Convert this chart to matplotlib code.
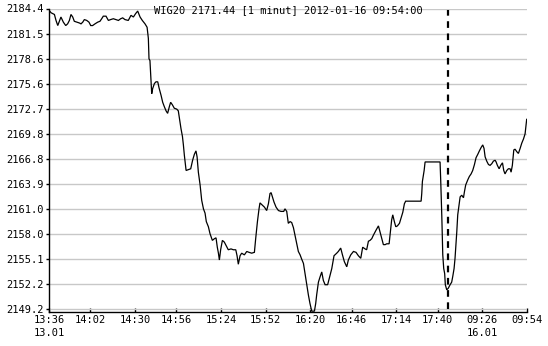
import matplotlib
matplotlib.use('Agg')
import matplotlib.pyplot as plt
import numpy as np

# minutes on the session axis (0 = 13:36 on 13.01, overnight gap removed)
t = [0, 1.3, 3.4, 4.4, 5.5, 6.5, 7.5, 9.0, 10.5, 11.7, 12.8, 13.8, 14.9, 15.9, 17.4, 19.1, 20.1, 21.2,
     22.2, 23.7, 25.1, 26.2, 27.4, 28.9, 30.6, 32.0, 33.1, 34.1, 35.8, 37.3, 38.7, 40.4, 41.9, 43.6,
     45.0, 46.3, 47.7,
     49.8, 51.5, 53.0, 54.4, 55.7, 57.2, 58.6, 60.3, 61.6, 62.4, 62.8, 63.4, 64.1, 64.5, 65.1, 66.2,
     67.2, 68.3, 69.1, 70.4, 71.4, 72.4, 73.5, 74.5, 75.6, 76.4, 77.5, 78.7, 80.2, 81.2, 81.9, 82.9,
     83.8, 84.4, 85.0, 86.1, 87.5, 89.0, 90.2, 91.3, 92.3, 93.0, 93.8, 94.9, 95.9, 97.0, 98.0, 98.8,
     100.1, 101.1, 102.6, 103.9, 104.9, 105.7, 106.4, 107.0, 107.8, 108.9, 110.1, 111.2, 112.6, 114.3,
     115.8, 117.3, 118.1, 118.9, 120.0, 121.0, 122.7, 124.2, 125.6, 127.3, 129.0, 129.8, 130.9, 131.9,
     132.5, 133.6, 135.3, 136.7, 137.8, 138.8, 139.5, 140.3, 141.3, 142.6, 144.1, 145.7, 147.4,
     148.2, 149.3, 150.3, 151.4, 152.4, 153.5, 154.5, 155.6, 156.6, 157.7, 158.7, 159.8, 160.8, 161.9,
     162.9, 163.9, 165.0, 166.7, 167.5, 168.1, 169.2, 170.2, 171.3, 172.3, 173.4, 175.0, 176.1, 177.6,
     179.0, 180.7, 181.7, 183.2, 184.3, 185.5, 187.0, 188.0, 189.5, 191.2, 192.8, 194.3, 195.8, 197.0,
     198.5,
     199.5, 200.6, 201.6, 202.7, 203.7, 205.4, 206.9, 207.9, 209.0, 210.0, 211.1, 212.1, 213.6, 214.6,
     215.2, 215.9, 216.9, 217.8, 218.8, 220.1, 221.1, 222.2, 223.2, 224.0, 233.7, 234.1, 234.5, 235.6,
     236.2, 245.6, 246.0, 246.7, 247.3, 247.9, 248.5,
     248.9, 249.8, 250.8, 251.9, 252.9, 253.6, 254.4, 255.0, 255.7, 256.1, 256.7, 257.5, 258.2, 259.2,
     260.3, 260.9, 261.7, 263.0, 264.0, 265.1, 266.1, 267.2, 268.2, 269.3, 270.3, 271.4, 272.4, 273.2,
     273.9, 274.9, 276.0, 277.0, 278.1, 279.1, 280.2, 280.8, 281.6, 282.7, 283.7, 284.8, 285.6, 286.4,
     287.5, 288.5, 289.6, 290.2, 291.0, 291.9, 292.7, 293.8, 294.8, 295.9, 296.9, 298.0, 299.0, 299.6,
     300.0]

price = [2184.2, 2183.9, 2183.7, 2183.0, 2182.4, 2182.9, 2183.4, 2182.8, 2182.4, 2182.6, 2183.0, 2183.7,
         2183.4, 2182.9, 2182.8, 2182.7, 2182.6, 2182.8, 2183.1, 2183.0, 2182.8, 2182.4, 2182.4, 2182.6,
         2182.8, 2182.9, 2183.2, 2183.5, 2183.5, 2183.0, 2183.1, 2183.2, 2183.1, 2183.0, 2183.2, 2183.3,
         2183.1,
         2183.0, 2183.6, 2183.4, 2183.8, 2184.1, 2183.4, 2183.0, 2182.6, 2182.2, 2180.9, 2178.5, 2178.3,
         2175.8, 2174.4, 2175.0, 2175.6, 2175.8, 2175.8, 2175.1, 2174.2, 2173.4, 2172.9, 2172.4, 2172.1,
         2172.9, 2173.4, 2173.1, 2172.7, 2172.6, 2172.4, 2171.5, 2170.3, 2169.4, 2168.4, 2167.2, 2165.4,
         2165.5, 2165.6, 2166.6, 2167.3, 2167.7, 2167.0, 2165.2, 2163.7, 2161.9, 2160.9, 2160.4, 2159.4,
         2158.8, 2158.0, 2157.2, 2157.4, 2157.5, 2156.4, 2155.7, 2154.9, 2156.1, 2157.2, 2157.0, 2156.6,
         2156.1, 2156.2, 2156.1, 2156.1, 2155.4, 2154.4, 2155.4, 2155.7, 2155.5, 2155.9, 2155.8, 2155.7,
         2155.8, 2157.4, 2159.4, 2160.9, 2161.6, 2161.4, 2161.1, 2160.7, 2161.5, 2162.7, 2162.8, 2162.3,
         2161.7, 2161.1, 2160.7, 2160.6, 2160.6,
         2160.9, 2160.6, 2159.2, 2159.4, 2159.3, 2158.7, 2157.8, 2156.8, 2155.9, 2155.5, 2155.0, 2154.5,
         2153.3, 2152.0, 2150.8, 2149.8, 2148.9, 2148.9, 2149.8, 2150.8, 2152.3, 2152.9, 2153.5, 2152.5,
         2152.0, 2152.0, 2152.8, 2153.9, 2155.4, 2155.7, 2155.9, 2156.3, 2155.5, 2154.7, 2154.1, 2154.9,
         2155.5, 2155.9, 2155.8, 2155.4, 2155.1, 2156.4, 2156.2,
         2156.1, 2157.1, 2157.2, 2157.4, 2157.8, 2158.4, 2158.9, 2158.2, 2157.4, 2156.7, 2156.7, 2156.8,
         2156.8, 2158.6, 2159.6, 2160.2, 2159.4, 2158.8, 2158.9, 2159.2, 2159.8, 2160.5, 2161.5, 2161.8,
         2161.8, 2162.7, 2164.1, 2165.4, 2166.4, 2166.4, 2164.3, 2160.0, 2155.5, 2153.9, 2153.3,
         2152.0, 2151.4, 2151.6, 2152.0, 2152.3, 2153.0, 2153.9, 2155.1, 2157.0, 2158.2, 2160.2, 2161.3,
         2162.3, 2162.5, 2162.2, 2162.9, 2163.7, 2164.3, 2164.7, 2165.0, 2165.4, 2166.1, 2166.9, 2167.3,
         2167.7, 2168.1, 2168.4, 2168.0, 2167.0, 2166.5, 2166.1, 2166.0, 2166.2, 2166.5, 2166.6, 2166.4,
         2166.0, 2165.6, 2166.0, 2166.3, 2165.4, 2165.0, 2165.4, 2165.6, 2165.6, 2165.2, 2166.0, 2167.8,
         2167.9, 2167.6, 2167.4, 2168.0, 2168.6, 2169.1, 2169.7, 2170.7, 2171.4]

xtick_pos = [0, 26, 54, 80, 108, 136, 164, 190, 218, 244, 272, 300]
xtick_lab = ['13:36\n13.01', '14:02', '14:30', '14:56', '15:24', '15:52', '16:20', '16:46',
             '17:14', '17:40', '09:26\n16.01', '09:54']
ytick_lab = ['2149.2', '2152.2', '2155.1', '2158.0', '2161.0', '2163.9', '2166.8', '2169.8',
             '2172.7', '2175.6', '2178.6', '2181.5', '2184.4']
day_break = 250.4
title = 'WIG20 2171.44 [1 minut] 2012-01-16 09:54:00'

plt.rcParams['font.family'] = ['DejaVu Sans Mono']
plt.rcParams['font.size'] = 7.5

fig = plt.figure(figsize=(5.48, 3.46), dpi=100)
ax = fig.add_axes([49/548, 34/346, 478/548, 303.5/346])

yticks = np.linspace(2149.2, 2184.4, 13)
ax.set_yticks(yticks)
ax.set_yticklabels(ytick_lab)
ax.set_xticks(xtick_pos)
ax.set_xticklabels(xtick_lab, linespacing=1.35, va='top')
ax.set_xlim(0, 300.2)
ax.set_ylim(2148.8, 2184.4)

ax.grid(axis='y', color='#c8c8c8', lw=1.0)
ax.set_axisbelow(True)
for s in ['top', 'right']:
    ax.spines[s].set_visible(False)
for s in ['left', 'bottom']:
    ax.spines[s].set_linewidth(1.0)
    ax.spines[s].set_color('black')

ax.tick_params(axis='y', direction='out', length=2, width=1, pad=1.5)
ax.tick_params(axis='x', direction='in', length=3, width=1, pad=2.5)

ax.plot(t, price, color='black', lw=0.9, solid_joinstyle='miter')
ax.axvline(day_break, ymin=0.01, ymax=0.995, color='black', lw=1.6, dashes=(3, 2.5))

ax.text(0.5, 0.995, title, transform=ax.transAxes, ha='center', va='center')

fig.savefig('out.png', dpi=100)
